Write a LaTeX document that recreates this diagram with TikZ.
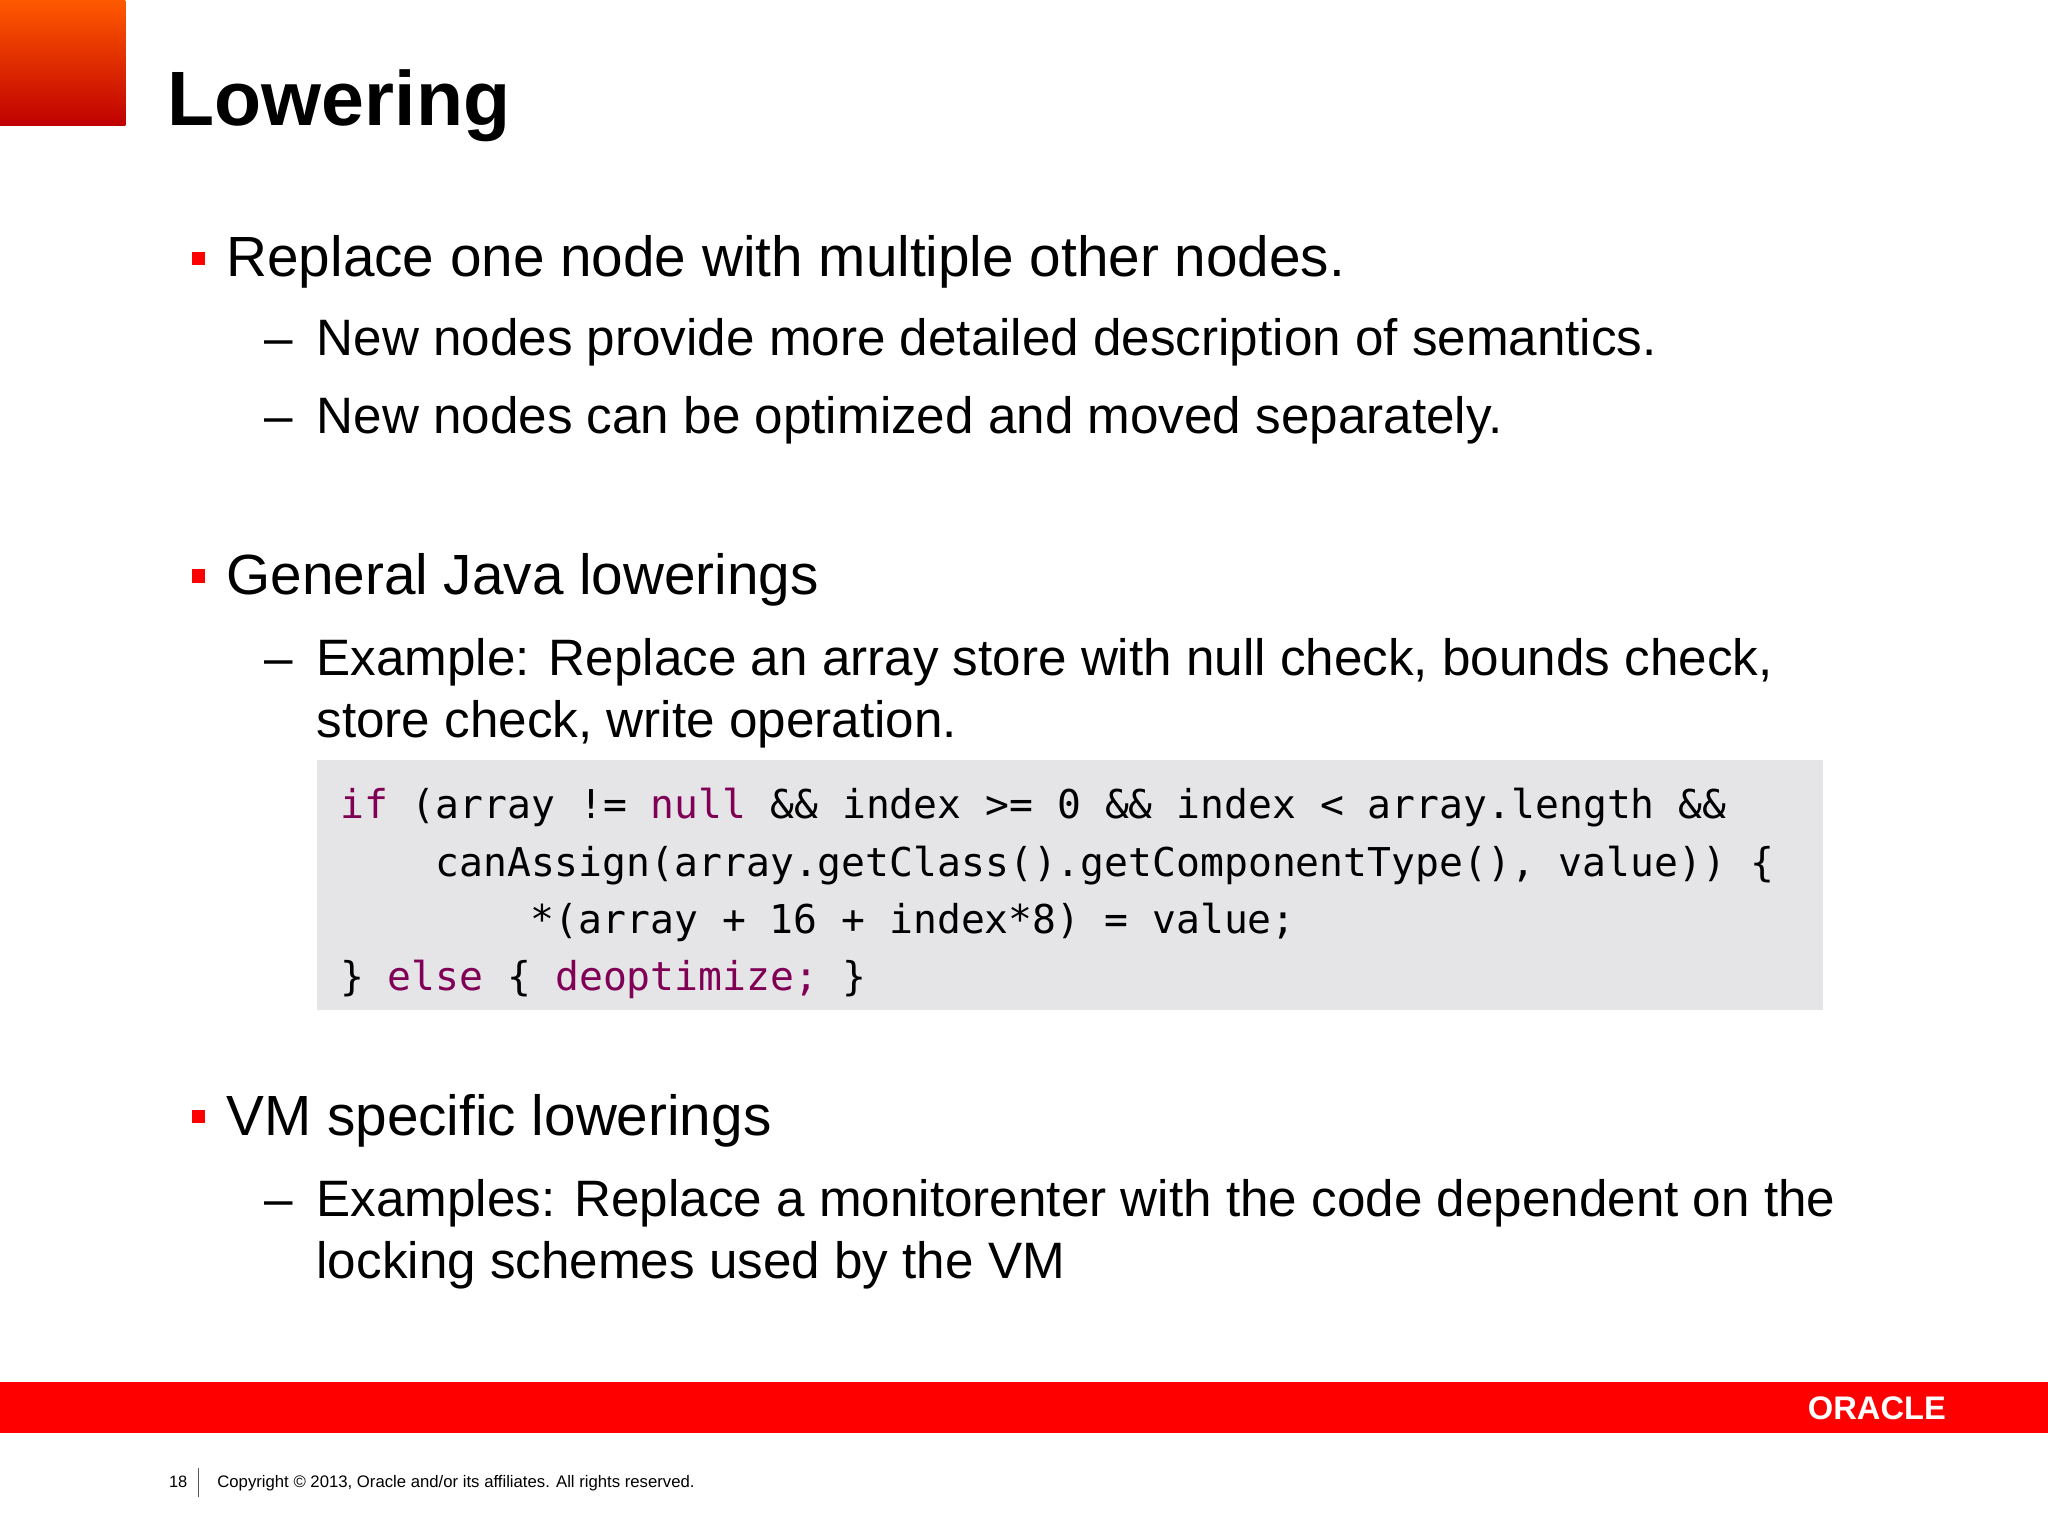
\documentclass[tikz,border=0pt]{standalone}
\usepackage{fontspec}
\setmainfont{Liberation Sans}
\newfontfamily\codefont{DejaVu Sans Mono}
\definecolor{orared}{HTML}{FF0000}
\definecolor{codebg}{HTML}{E5E4E7}
\definecolor{kw}{HTML}{7F0055}
\begin{document}
\begin{tikzpicture}[x=0.5pt,y=-0.5pt,
  lone/.style={anchor=base west,inner sep=0pt,font=\fontsize{21.7}{26}\selectfont},
  body/.style={anchor=base west,inner sep=0pt,font=\fontsize{19.6}{24}\selectfont},
  code/.style={anchor=base west,inner sep=0pt,font=\codefont\fontsize{15.2}{18}\selectfont},
  bul/.style={fill=orared,minimum size=5pt,inner sep=0pt},
  dsh/.style={anchor=base west,inner sep=0pt,font=\fontsize{19.6}{24}\selectfont}]
\useasboundingbox (0,0) rectangle (1568,1176);
\fill[white] (0,0) rectangle (1568,1176);
\shade[top color=orange!70!red, bottom color=red!75!black] (0,0) rectangle (96,96);
\node[anchor=base west,inner sep=0pt,font=\bfseries\fontsize{29.5}{34}\selectfont] (title) at (128,96) {Lowering};
% bullets
\node[bul] (b1) at (152,198) {};
\node[lone] (t1) at (173,212) {Replace one node with multiple other nodes.};
\node[dsh] (d1) at (202,272) {--};
\node[body] (t1a) at (242,272) {New nodes provide more detailed description of semantics.};
\node[dsh] (d2) at (202,332) {--};
\node[body] (t1b) at (242,332) {New nodes can be optimized and moved separately.};
\node[bul] (b2) at (152,441) {};
\node[lone] (t2) at (173,455) {General Java lowerings};
\node[dsh] (d3) at (202,517) {--};
\node[body] (t2a) at (242,517) {Example: Replace an array store with null check, bounds check,};
\node[body] (t2b) at (242,565) {store check, write operation.};
\fill[codebg] (243,582) rectangle (1396,773);
\node[code] (c1) at (260,627) {\textcolor{kw}{if} (array != \textcolor{kw}{null} \&\& index >= 0 \&\& index < array.length \&\&};
\node[code] (c2) at (333,671) {canAssign(array.getClass().getComponentType(), value)) \{};
\node[code] (c3) at (406,715) {*(array + 16 + index*8) = value;};
\node[code] (c4) at (260,758) {\} \textcolor{kw}{else} \{ \textcolor{kw}{deoptimize;} \}};
\node[bul] (b3) at (152,855) {};
\node[lone] (t3) at (173,869) {VM specific lowerings};
\node[dsh] (d4) at (202,931) {--};
\node[body] (t3a) at (242,931) {Examples: Replace a monitorenter with the code dependent on the};
\node[body] (t3b) at (242,979) {locking schemes used by the VM};
% footer
\fill[orared] (0,1058) rectangle (1568,1097);
\node[anchor=center,inner sep=0pt,text=white,font=\bfseries\fontsize{12.5}{13}\selectfont] (logo) at (1437,1078) {ORACLE};
\node[anchor=base west,inner sep=0pt,font=\fontsize{6.3}{7}\selectfont] (pg) at (129,1139) {18};
\coordinate (la) at (152,1124);
\coordinate (lb) at (152,1146);
\draw[line width=0.6pt,gray!70!black] (la) -- (lb);
\node[anchor=base west,inner sep=0pt,font=\fontsize{6.4}{7}\selectfont] (copy) at (166,1139) {Copyright © 2013, Oracle and/or its affiliates. All rights reserved.};
\end{tikzpicture}
\end{document}
